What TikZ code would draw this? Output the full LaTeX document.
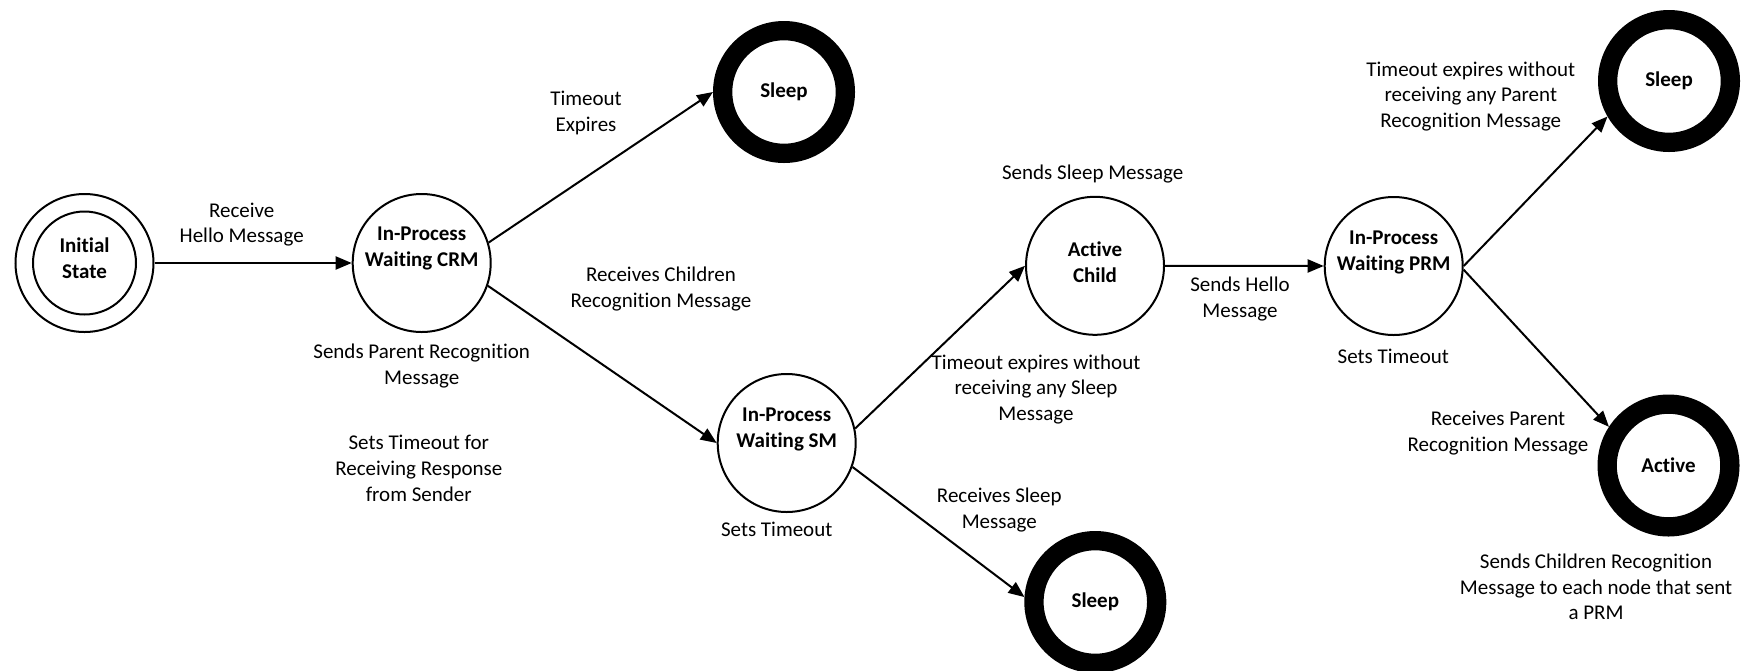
\documentclass[tikz,border=0pt]{standalone}
\usepackage{fontspec}
\setmainfont{Carlito}[Ligatures=NoCommon]
\usetikzlibrary{arrows.meta}

\begin{document}
\begin{tikzpicture}[x=1pt,y=-1pt,
  every node/.style={font=\fontsize{21}{25.6}\selectfont},
  state/.style={circle,draw,line width=2pt,minimum size=138pt,inner sep=0pt},
  inner ring/.style={circle,draw,line width=2pt,minimum size=103pt,inner sep=0pt},
  final/.style={circle,draw,line width=19.3pt,minimum size=122.7pt,inner sep=0pt},
  stname/.style={align=center,inner sep=0pt,font=\fontsize{21}{25.6}\selectfont\bfseries},
  note/.style={align=center,inner sep=0pt},
  trans/.style={line width=2pt,-{Triangle[length=16pt,width=13pt]}}
]
\useasboundingbox (0,0) rectangle (1747,670);

% states
\node[state] (init) at (84.5,263) {};
\node[inner ring] (initin) at (init.center) {};
\node[state] (crm) at (421.7,263) {};
\node[final] (sleepA) at (784,92) {};
\node[state] (sm) at (786.7,443) {};
\node[state] (child) at (1095,265.8) {};
\node[final] (sleepB) at (1095.3,602) {};
\node[state] (prm) at (1393.7,266) {};
\node[final] (sleepC) at (1669,81) {};
\node[final] (active) at (1668.5,465.5) {};

% state names
\node[stname] (init-t) at (84.5,258) {Initial\\State};
\node[stname] (crm-t) at (421.7,248.5) {In-Process\\Waiting CRM};
\node[stname] (sleepA-t) at (784,92) {Sleep};
\node[stname] (sm-t) at (786.7,429.2) {In-Process\\Waiting SM};
\node[stname] (child-t) at (1095,262.5) {Active\\Child};
\node[stname] (sleepB-t) at (1095.3,602) {Sleep};
\node[stname] (prm-t) at (1393.7,252.2) {In-Process\\Waiting PRM};
\node[stname] (sleepC-t) at (1669,81) {Sleep};
\node[stname] (active-t) at (1668.5,465.5) {Active};

% transitions
\draw[trans] (init.east) -- (crm.west);
\draw[trans] (crm.17.6) -- (sleepA.west);
\draw[trans] (crm.-19.6) -- (sm.west);
\draw[trans] (sm.12.7) -- (child.west);
\draw[trans] (sm.-20) -- (sleepB.176.5);
\draw[trans] (child.east) -- (prm.west);
\draw[trans] (prm.east) -- (sleepC.210.5);
\draw[trans] (prm.-3) -- (active.147);

% transition and action notes
\node[note] (n1) at (241.7,224.5) {Receive\\Hello Message};
\node[note] (n2) at (421.7,366.3) {Sends Parent Recognition\\Message};
\node[note] (n3) at (418.8,468.4) {Sets Timeout for\\Receiving Response\\from Sender};
\node[note] (n4) at (586,112.7) {Timeout\\Expires};
\node[note] (n5) at (661,288.8) {Receives Children\\Recognition Message};
\node[note] (n6) at (776.7,529.3) {Sets Timeout};
\node[note] (n7) at (1092.7,174) {Sends Sleep Message};
\node[note] (n8) at (1036,389.5) {Timeout expires without\\receiving any Sleep\\Message};
\node[note] (n9) at (999.3,510) {Receives Sleep\\Message};
\node[note] (n10) at (1240,299.2) {Sends Hello\\Message};
\node[note] (n11) at (1393.3,356.7) {Sets Timeout};
\node[note] (n12) at (1470.8,96.5) {Timeout expires without\\receiving any Parent\\Recognition Message};
\node[note] (n13) at (1498,433) {Receives Parent\\Recognition Message};
\node[note] (n14) at (1596,587) {Sends Children Recognition\\Message to each node that sent\\a PRM};
\end{tikzpicture}
\end{document}
